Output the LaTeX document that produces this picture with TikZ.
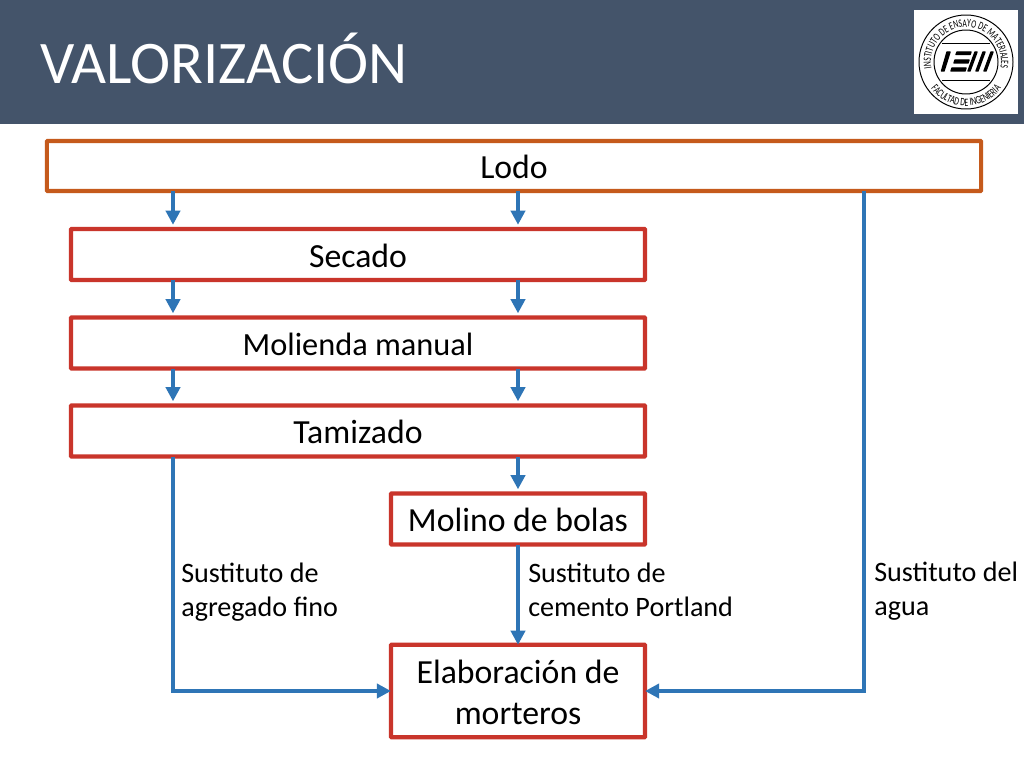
\documentclass[tikz,border=0pt]{standalone}
\usepackage{fontspec}
\setmainfont{Carlito}
\newfontfamily\logofont[FakeStretch=0.68]{Carlito}
\usetikzlibrary{arrows.meta,decorations.text}
\definecolor{banner}{HTML}{44546A}
\definecolor{boxred}{HTML}{C9352B}
\definecolor{boxorange}{HTML}{C55A1C}
\definecolor{flowblue}{HTML}{2E75B6}
\tikzset{
	boxa/.style={draw=boxred, line width=3pt, outer sep=0pt, rounded corners=0.5pt, fill=white, inner sep=0pt, align=center, font=\fontsize{24}{29}\selectfont, execute at begin node={\rule{0pt}{18.4pt}}},
	flow/.style={draw=flowblue, line width=3.1pt, -{Triangle[length=10pt,width=10pt]}},
	flowshort/.style={flow, shorten >=3pt},
	flowlabel/.style={anchor=west, align=left, inner sep=0pt, font=\fontsize{20}{24.6}\selectfont},
	logobar/.style={draw=black, fill=black, line width=1pt, line join=round}
}
\begin{document}
\begin{tikzpicture}[x=0.025cm,y=0.025cm]
	\useasboundingbox (0,-768) rectangle (1024,0);
	\fill[white] (0,-768) rectangle (1024,0);
	%Banner
	\fill[banner] (0,-124) rectangle (1024,0);
	\node[anchor=west, inner sep=0pt, text=white, font=\fontsize{43}{43}\selectfont] (title) at (40,-58) {VALORIZACIÓN};
	%Logo
	\fill[white] (914,-10) rectangle (1018,-114);
	\draw[black, line width=0.7pt] (966,-62) circle (47);
	\draw[black, line width=0.7pt] (966,-62) circle (32);
	\draw[black, line width=0.7pt] (942,-43) -- (990,-43);
	\draw[black, line width=0.7pt] (942,-80) -- (990,-80);
	\path[decorate, decoration={text along path, text align=center, text={|\logofont\fontsize{8}{8}\selectfont|INSTITUTO DE ENSAYO DE MATERIALES}}]
		(966,-62) ++(240:35) arc (240:-60:35);
	\path[decorate, decoration={text along path, text align=center, text={|\logofont\fontsize{8}{8}\selectfont|FACULTAD DE INGENIERIA}}]
		(966,-62) ++(180:44) arc (180:360:44);
	\filldraw[logobar] (947,-52) -- (950,-52) -- (944,-71) -- (941.5,-71) -- cycle;
	\filldraw[logobar] (957,-52) -- (971,-52) -- (970,-54.5) -- (956,-54.5) -- cycle;
	\filldraw[logobar] (955,-60) -- (969,-60) -- (968,-63) -- (954,-63) -- cycle;
	\filldraw[logobar] (952,-68) -- (966,-68) -- (965,-71) -- (951,-71) -- cycle;
	\filldraw[logobar] (975,-52) -- (977,-52) -- (970,-71) -- (968,-71) -- cycle;
	\filldraw[logobar] (983,-52) -- (985,-52) -- (978,-71) -- (976,-71) -- cycle;
	\filldraw[logobar] (991,-52) -- (993,-52) -- (986,-71) -- (984,-71) -- cycle;
	%Boxes
	\node[boxa, draw=boxorange, minimum width=23.35cm, minimum height=1.25cm] (lodo) at (514,-166) {Lodo};
	\node[boxa, minimum width=14.35cm, minimum height=1.275cm] (secado) at (358,-254.5) {Secado};
	\node[boxa, minimum width=14.35cm, minimum height=1.275cm, font=\fontsize{23}{29}\selectfont] (molienda) at (358,-343) {Molienda manual};
	\node[boxa, minimum width=14.35cm, minimum height=1.275cm] (tamizado) at (358,-431) {Tamizado};
	\node[boxa, minimum width=6.35cm, minimum height=1.275cm] (molino) at (518,-519) {Molino de bolas};
	\node[boxa, minimum width=6.35cm, minimum height=2.31cm] (elaboracion) at (518,-691) {\rule{0pt}{19pt}Elaboración de\\morteros};
	%Columns of the connectors
	\coordinate (colleft) at (173,0);
	\coordinate (colmid) at (518,0);
	\coordinate (colright) at (864,0);
	%Connectors
	\draw[flowshort] (lodo.south -| colleft) -- (secado.north -| colleft);
	\draw[flowshort] (lodo.south -| colmid) -- (secado.north -| colmid);
	\draw[flowshort] (secado.south -| colleft) -- (molienda.north -| colleft);
	\draw[flowshort] (secado.south -| colmid) -- (molienda.north -| colmid);
	\draw[flowshort] (molienda.south -| colleft) -- (tamizado.north -| colleft);
	\draw[flowshort] (molienda.south -| colmid) -- (tamizado.north -| colmid);
	\draw[flowshort] (tamizado.south -| colmid) -- (molino.north -| colmid);
	\draw[flow] (molino.south -| colmid) -- (elaboracion.north -| colmid);
	\draw[flow] (tamizado.south -| colleft) |- (elaboracion.west);
	\draw[flow] (lodo.south -| colright) |- (elaboracion.east);
	%Labels
	\node[flowlabel] (lblfino) at (181,-592) {Sustituto de\\agregado fino};
	\node[flowlabel] (lblcemento) at (528,-590) {Sustituto de\\cemento Portland};
	\node[flowlabel] (lblagua) at (874,-591) {Sustituto del\\agua};
\end{tikzpicture}
\end{document}
